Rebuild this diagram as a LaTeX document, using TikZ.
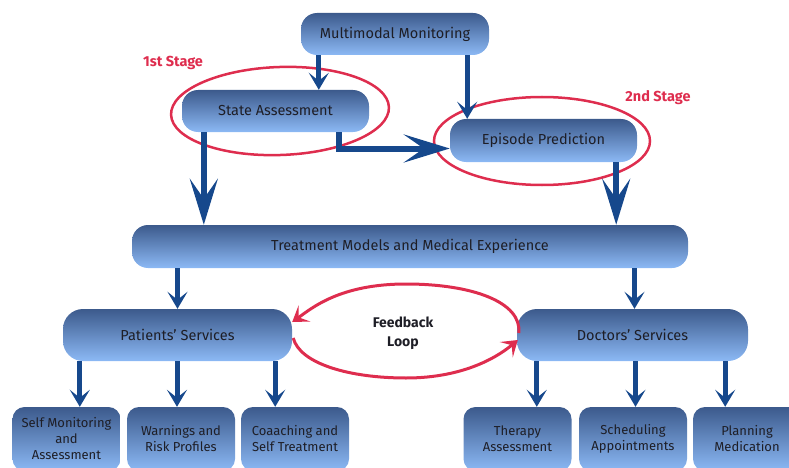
\documentclass[tikz,border=0pt]{standalone}
\usepackage{fontspec}
\setmainfont{Fira Sans}
\usetikzlibrary{arrows.meta,calc}
\definecolor{boxtop}{RGB}{60,90,140}
\definecolor{boxbot}{RGB}{140,185,245}
\definecolor{arrblue}{RGB}{22,72,140}
\definecolor{loopred}{RGB}{222,45,78}
\definecolor{txt}{RGB}{30,30,38}
\begin{document}
\begin{tikzpicture}[x=1pt,y=-1pt,
  box/.style={rounded corners=16pt, top color=boxtop, bottom color=boxbot, text=txt,
    font=\fontsize{14.5}{17}\selectfont, inner sep=0pt, align=center},
  leaf/.style={box, rounded corners=12pt, minimum width=108pt, minimum height=64pt,
    font=\fontsize{13}{16}\selectfont},
  arr/.style={draw=arrblue, line width=5pt, -{Stealth[length=17pt,width=20pt,inset=8pt]}},
  bigarr/.style={draw=arrblue, line width=6pt, -{Stealth[length=46pt,width=28pt,inset=20pt]}},
  stage/.style={draw=loopred, line width=2.5pt},
  loop/.style={draw=loopred, line width=3pt, -{Stealth[length=15pt,width=20pt,inset=7pt]}},
  stagelbl/.style={text=loopred, font=\fontsize{14.5}{16}\selectfont\bfseries},
]
\useasboundingbox (0,0) rectangle (789,468);

% stage ellipses
\draw[stage, rotate around={2:(280,111)}] (280,111) ellipse [x radius=109, y radius=44];
\draw[stage] (542,141) ellipse [x radius=108, y radius=44];

% main boxes
\node[box, minimum width=188pt, minimum height=42pt] (mm) at (395,34) {Multimodal Monitoring};
\node[box, minimum width=187pt, minimum height=42pt] (sa) at (275.5,111) {State Assessment};
\node[box, minimum width=187pt, minimum height=43pt] (ep) at (543.5,140.5) {Episode Prediction};
\node[box, minimum width=556pt, minimum height=43pt] (tm) at (410,246.5) {Treatment Models and Medical Experience};
\node[box, rounded corners=20pt, minimum width=229pt, minimum height=52pt] (ps) at (177.5,335) {Patients' Services};
\node[box, rounded corners=20pt, minimum width=231pt, minimum height=52pt] (ds) at (632.5,335) {Doctors' Services};

% leaf boxes
\node[leaf] (sm) at (66.5,439) {Self Monitoring\\and\\Assessment};
\node[leaf] (wr) at (181,439) {Warnings and\\Risk Profiles};
\node[leaf] (cs) at (295,439) {Coaaching and\\Self Treatment};
\node[leaf] (ta) at (517.5,439) {Therapy\\Assessment};
\node[leaf] (sc) at (633,439) {Scheduling\\Appointments};
\node[leaf] (pm) at (747,439) {Planning\\Medication};

% labels
\node[stagelbl] (l1) at (173,63) {1st Stage};
\node[stagelbl] (l2) at (658,98) {2nd Stage};
\node[font=\fontsize{14}{19}\selectfont\bfseries, text=txt, align=center] (fb) at (403,333) {Feedback\\Loop};

% blue arrows
\draw[arr] ([xshift=18pt]mm.south west) -- ([xshift=18pt]mm.south west |- sa.north);
\draw[arr] ([xshift=-22pt]mm.south east) -- ([xshift=-22pt]mm.south east |- ep.north);
\draw[bigarr] ([xshift=22pt]sa.south west) -- ([xshift=22pt]sa.south west |- tm.north);
\draw[bigarr] ([xshift=-30pt]sa.south east) |- ([yshift=-8pt]ep.west);
\draw[bigarr] ([xshift=-21pt]ep.south east) -- ([xshift=-21pt]ep.south east |- tm.north);
\draw[arr] (tm.south -| ps) -- (ps.north);
\draw[arr] ([xshift=2pt]tm.south -| ds) -- ([xshift=2pt]ds.north);
\draw[arr] ([xshift=17pt]ps.south west) -- ([xshift=17pt]ps.south west |- sm.north);
\draw[arr] ([xshift=-4pt]wr.north |- ps.south) -- ([xshift=-4pt]wr.north);
\draw[arr] ([xshift=-17pt]ps.south east) -- ([xshift=-17pt]ps.south east |- cs.north);
\draw[arr] ([xshift=20pt]ds.south west) -- ([xshift=20pt]ds.south west |- ta.north);
\draw[arr] ([xshift=3pt]ds.south) -- ([xshift=3pt]ds.south |- sc.north);
\draw[arr] ([xshift=-23pt]ds.south east) -- ([xshift=-23pt]ds.south east |- pm.north);

% feedback loop
\draw[loop] ([xshift=2pt,yshift=2pt]ds.west) .. controls (522,302) and (472,284) .. (406,284)
   .. controls (340,284) and (312,308) .. ([yshift=13pt]ps.east);
\draw[loop] ([xshift=1pt,yshift=-3pt]ps.east) .. controls (300,364) and (350,378) .. (406,378)
   .. controls (466,378) and (500,355) .. ([xshift=1pt,yshift=-5pt]ds.west);
\end{tikzpicture}
\end{document}
